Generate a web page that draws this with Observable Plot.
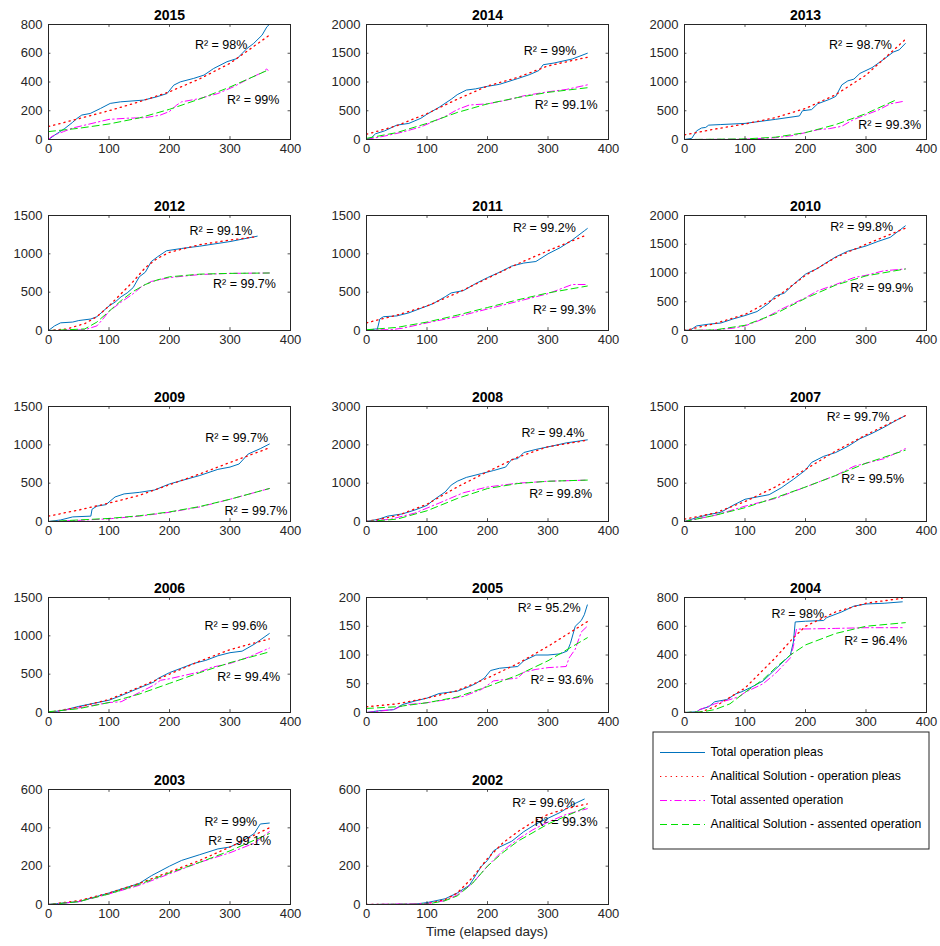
<!DOCTYPE html>
<html><head><meta charset="utf-8">
<script src="https://cdn.jsdelivr.net/npm/d3@7"></script>
<script src="https://cdn.jsdelivr.net/npm/@observablehq/plot@0.6"></script>
<style>
body{margin:0;background:#fff;}
#chart{position:relative;width:940px;height:946px;font-family:"Liberation Sans",Arial,Helvetica,sans-serif;}
#chart svg{position:absolute;overflow:visible;max-width:none;}
#xlabel{position:absolute;left:0;width:974px;top:924px;text-align:center;font-size:13.5px;color:#262626;}
</style></head><body><div id="chart"><div id="xlabel">Time (elapsed days)</div></div>
<script>
// ---------- panel meta ----------
const years = [2015, 2014, 2013, 2012, 2011, 2010, 2009, 2008, 2007, 2006, 2005, 2004, 2003, 2002];
const yMax = [800, 2000, 2000, 1500, 1500, 2000, 1500, 3000, 1500, 1500, 200, 800, 600, 600];
const yTickStep = [200, 500, 500, 500, 500, 500, 500, 1000, 500, 500, 50, 200, 200, 200];
const xTicks = [0, 100, 200, 300, 400];
const r2Pleas = ["98%", "99%", "98.7%", "99.1%", "99.2%", "99.8%", "99.7%", "99.4%", "99.7%", "99.6%", "95.2%", "98%", "99%", "99.6%"];
const r2Assent = ["99%", "99.1%", "99.3%", "99.7%", "99.3%", "99.9%", "99.7%", "99.8%", "99.5%", "99.4%", "93.6%", "96.4%", "99.1%", "99.3%"];
const r2PleasAt = [[242,656],[260,1542],[239,1640],[233,1303],[242,1333],[241,1807],[259,1083],[256,2298],[235,1360],[258,1127],[250,181],[144,688],[258,433],[241,532]];
const r2AssentAt = [[295,278],[278,597],[287,249],[272,601],[275,272],[274,731],[291,132],[269,728],[259,548],[279,469],[271,56],[264,500],[264,329],[278,428]];
const legendLabels = ["Total operation pleas", "Analitical Solution - operation pleas", "Total assented operation", "Analitical Solution - assented operation"];

// ---------- series: [day, cumulative count] ----------
const pleas2015 = [[0,0],[10,30],[27,77],[40,120],[47,146],[55,170],[69,181],[86,216],[102,251],[119,262],[157,274],[179,297],[196,320],[207,378],[218,401],[240,425],[257,448],[273,494],[295,541],[312,564],[328,633],[339,668],[353,726],[361,784],[364,796]];
const fitPleas2015 = [[0,90],[50,145],[100,200],[150,262],[200,332],[250,422],[300,530],[365,725]];
const assent2015 = [[0,0],[5,20],[15,40],[25,55],[40,80],[60,100],[80,120],[100,140],[130,148],[160,152],[185,170],[200,195],[212,240],[220,262],[250,285],[280,320],[305,365],[330,420],[355,470],[360,490],[363,482]];
const fitAssent2015 = [[0,55],[50,78],[100,108],[150,150],[200,210],[250,282],[300,365],[365,487]];

const pleas2014 = [[0,0],[8,30],[15,100],[30,150],[50,250],[70,280],[90,370],[100,440],[120,560],[140,700],[150,780],[165,860],[180,880],[200,925],[220,960],[250,1060],[270,1130],[285,1200],[292,1300],[310,1330],[340,1400],[365,1500]];
const fitPleas2014 = [[0,90],[50,240],[100,450],[150,700],[200,930],[250,1080],[300,1280],[365,1430]];
const assent2014 = [[0,0],[30,60],[60,130],[90,220],[110,310],[130,400],[150,520],[170,600],[200,620],[230,680],[260,760],[300,830],[330,870],[365,950]];
const fitAssent2014 = [[0,20],[50,120],[100,280],[150,470],[200,620],[250,730],[300,820],[365,900]];

const pleas2013 = [[0,0],[12,20],[20,150],[28,200],[35,210],[40,250],[60,260],[100,280],[150,350],[190,410],[195,500],[210,520],[220,620],[240,700],[250,750],[260,950],[270,1020],[280,1050],[290,1150],[310,1250],[330,1400],[345,1520],[355,1560],[365,1670]];
const fitPleas2013 = [[0,80],[50,180],[100,270],[150,380],[200,540],[250,780],[300,1120],[365,1740]];
const assent2013 = [[0,0],[100,5],[150,30],[180,70],[200,120],[220,170],[240,190],[260,230],[270,290],[280,350],[300,430],[320,510],[340,620],[360,660]];
const fitAssent2013 = [[0,0],[100,10],[150,40],[200,120],[250,260],[300,450],[350,690]];

const pleas2012 = [[0,0],[10,60],[20,100],[40,110],[50,130],[70,150],[80,180],[90,250],[100,320],[110,370],[120,440],[130,490],[140,560],[150,700],[160,760],[170,900],[180,960],[195,1040],[220,1070],[250,1100],[300,1160],[345,1230]];
const fitPleas2012 = [[0,0],[30,20],[60,90],[80,180],[100,320],[120,480],[140,640],[160,820],[180,940],[200,1020],[250,1120],[300,1180],[345,1225]];
const assent2012 = [[0,0],[30,5],[60,10],[80,60],[90,150],[100,250],[120,370],[140,480],[155,580],[170,640],[200,690],[250,730],[300,745],[365,750]];
const fitAssent2012 = [[0,0],[60,20],[80,110],[100,250],[120,390],[140,510],[160,600],[180,660],[200,700],[250,735],[300,745],[365,750]];

const pleas2011 = [[0,0],[15,20],[18,20],[22,150],[28,180],[50,190],[70,230],[90,290],[110,350],[130,440],[140,490],[160,520],[180,610],[200,690],[220,760],[240,840],[260,880],[280,900],[300,1000],[320,1080],[340,1180],[360,1300],[365,1330]];
const fitPleas2011 = [[0,100],[50,200],[100,320],[150,490],[200,680],[250,870],[300,1040],[365,1250]];
const assent2011 = [[0,0],[20,10],[40,10],[60,30],[100,100],[150,180],[200,280],[250,380],[300,480],[340,600],[365,600]];
const fitAssent2011 = [[0,10],[50,40],[100,110],[150,200],[200,300],[250,400],[300,490],[365,580]];

const pleas2010 = [[0,0],[10,10],[20,80],[40,110],[60,130],[80,200],[100,260],[120,330],[140,480],[150,600],[165,650],[180,800],[200,980],[220,1080],[230,1150],[250,1280],[270,1380],[300,1470],[320,1550],[340,1620],[365,1820]];
const fitPleas2010 = [[0,0],[50,120],[100,280],[150,560],[200,960],[250,1270],[300,1500],[365,1780]];
const assent2010 = [[0,0],[50,10],[80,40],[100,80],[130,200],[160,370],[200,570],[220,690],[250,800],[280,920],[300,960],[330,1040],[365,1070]];
const fitAssent2010 = [[0,0],[50,10],[100,90],[150,290],[200,560],[250,790],[300,950],[365,1070]];

const pleas2009 = [[0,0],[20,20],[40,60],[70,70],[72,160],[80,200],[95,220],[110,320],[125,360],[150,380],[175,410],[200,490],[250,600],[280,680],[300,710],[315,750],[330,880],[350,950],[365,1010]];
const fitPleas2009 = [[0,70],[50,150],[100,240],[150,340],[200,480],[250,620],[300,770],[365,960]];
const assent2009 = [[0,0],[50,15],[100,35],[150,70],[200,120],[250,190],[300,290],[365,430]];
const fitAssent2009 = [[0,0],[50,20],[100,40],[150,75],[200,125],[250,195],[300,290],[365,430]];

const pleas2008 = [[0,0],[20,60],[35,140],[60,200],[80,300],[100,420],[110,550],[130,770],[140,950],[150,1050],[165,1150],[190,1250],[210,1330],[230,1420],[240,1620],[250,1640],[260,1800],[280,1880],[310,1980],[330,2050],[365,2130]];
const fitPleas2008 = [[0,0],[50,150],[100,450],[150,900],[200,1300],[250,1680],[300,1950],[365,2120]];
const assent2008 = [[0,0],[40,60],[80,220],[120,480],[160,750],[200,900],[250,1000],[300,1050],[365,1080]];
const fitAssent2008 = [[0,0],[50,60],[100,280],[150,600],[200,860],[250,990],[300,1050],[365,1080]];

const pleas2007 = [[0,0],[20,50],[40,90],[60,120],[80,210],[100,290],[120,320],[140,350],[160,440],[180,550],[200,670],[210,770],[230,850],[250,900],[270,980],[290,1080],[310,1150],[330,1230],[350,1320],[365,1380]];
const fitPleas2007 = [[0,30],[50,110],[100,260],[150,450],[200,680],[250,920],[300,1130],[365,1380]];
const assent2007 = [[0,0],[50,80],[100,200],[150,300],[200,450],[250,600],[280,720],[300,760],[330,820],[365,950]];
const fitAssent2007 = [[0,0],[50,80],[100,180],[150,310],[200,450],[250,600],[300,760],[365,930]];

const pleas2006 = [[0,0],[25,30],[50,80],[75,120],[100,160],[120,220],[150,320],[175,400],[180,440],[200,520],[220,580],[240,640],[260,680],[280,740],[300,780],[320,800],[340,890],[365,1030]];
const fitPleas2006 = [[0,0],[50,70],[100,170],[150,330],[200,500],[250,670],[300,820],[365,960]];
const assent2006 = [[0,0],[50,60],[100,130],[120,140],[150,260],[175,360],[185,420],[200,440],[250,530],[270,590],[300,640],[330,720],[365,840]];
const fitAssent2006 = [[0,10],[50,50],[100,130],[150,240],[200,380],[250,520],[300,650],[365,790]];

const pleas2005 = [[0,0],[20,3],[45,5],[60,14],[80,20],[100,25],[120,33],[150,37],[170,45],[180,50],[195,60],[205,73],[220,77],[250,80],[260,90],[280,100],[300,100],[320,102],[332,107],[337,120],[345,150],[355,160],[360,170],[365,187]];
const fitPleas2005 = [[0,10],[50,15],[100,25],[150,38],[200,60],[250,85],[300,115],[365,158]];
const assent2005 = [[0,0],[45,5],[55,10],[70,14],[100,17],[130,22],[160,28],[190,40],[210,55],[250,60],[260,70],[280,75],[300,78],[330,80],[335,95],[345,110],[355,140],[365,150]];
const fitAssent2005 = [[0,7],[50,10],[100,17],[150,27],[200,45],[250,65],[300,90],[365,130]];

const pleas2004 = [[0,0],[20,5],[25,20],[40,40],[50,75],[70,90],[85,130],[95,145],[110,175],[130,220],[150,300],[165,360],[175,400],[180,490],[183,630],[200,635],[230,640],[235,660],[260,700],[280,740],[300,755],[330,760],[360,770]];
const fitPleas2004 = [[0,0],[25,0],[50,40],[100,170],[150,380],[180,520],[200,600],[250,700],[300,760],[360,795]];
const assent2004 = [[0,0],[20,0],[25,20],[50,60],[75,90],[90,110],[100,140],[130,200],[150,270],[175,380],[180,460],[185,580],[250,585],[300,590],[360,590]];
const fitAssent2004 = [[0,0],[30,5],[50,20],[75,60],[100,140],[130,230],[150,310],[175,400],[200,470],[250,550],[300,600],[365,625]];

const pleas2003 = [[0,0],[50,15],[100,60],[150,110],[170,150],[200,200],[220,230],[250,260],[280,290],[300,300],[320,330],[340,370],[350,420],[365,425]];
const fitPleas2003 = [[0,0],[50,20],[100,60],[150,110],[200,170],[250,230],[300,300],[365,400]];
const assent2003 = [[0,0],[50,15],[100,55],[150,100],[200,160],[250,220],[300,270],[340,320],[365,380]];
const fitAssent2003 = [[0,0],[50,15],[100,55],[150,105],[200,165],[250,220],[300,280],[365,370]];

const pleas2002 = [[0,0],[80,2],[100,10],[130,30],[150,60],[170,100],[190,200],[200,230],[210,280],[220,300],[240,330],[260,380],[280,420],[300,450],[320,480],[340,520],[360,550]];
const fitPleas2002 = [[0,0],[80,0],[100,5],[130,25],[150,60],[175,140],[200,240],[225,320],[250,380],[275,430],[300,470],[330,500],[365,525]];
const assent2002 = [[0,0],[100,5],[130,20],[150,50],[175,110],[200,200],[225,280],[250,340],[275,390],[300,430],[330,470],[365,500]];
const fitAssent2002 = [[0,0],[100,2],[130,20],[150,45],[175,110],[200,200],[225,270],[250,330],[300,420],[365,510]];

const pleasSeries = [pleas2015, pleas2014, pleas2013, pleas2012, pleas2011, pleas2010, pleas2009, pleas2008, pleas2007, pleas2006, pleas2005, pleas2004, pleas2003, pleas2002];
const fitPleasSeries = [fitPleas2015, fitPleas2014, fitPleas2013, fitPleas2012, fitPleas2011, fitPleas2010, fitPleas2009, fitPleas2008, fitPleas2007, fitPleas2006, fitPleas2005, fitPleas2004, fitPleas2003, fitPleas2002];
const assentSeries = [assent2015, assent2014, assent2013, assent2012, assent2011, assent2010, assent2009, assent2008, assent2007, assent2006, assent2005, assent2004, assent2003, assent2002];
const fitAssentSeries = [fitAssent2015, fitAssent2014, fitAssent2013, fitAssent2012, fitAssent2011, fitAssent2010, fitAssent2009, fitAssent2008, fitAssent2007, fitAssent2006, fitAssent2005, fitAssent2004, fitAssent2003, fitAssent2002];

// ---------- styles ----------
const FONT = '"Liberation Sans", Arial, Helvetica, sans-serif';
const INK = "#262626";
const seriesStyle = [
  {stroke: "#0072BD", strokeWidth: 1},
  {stroke: "#ff0000", strokeWidth: 1.3, strokeDasharray: "1.3,4"},
  {stroke: "#ff00ff", strokeWidth: 1, strokeDasharray: "7,3,1.5,3"},
  {stroke: "#00e000", strokeWidth: 1, strokeDasharray: "7,4"}
];
const colLeft = [48, 366, 684];
const rowTop = [24, 215, 406, 597, 789];
const FW = 242, FH = 115, ML = 48, MT = 24, MR = 20, MB = 22;

const chart = document.getElementById("chart");

years.forEach((yr, i) => {
  const col = i % 3, row = Math.floor(i / 3);
  const ym = yMax[i];
  const yTicks = d3.range(0, ym + 1e-9, yTickStep[i]);
  const lineOf = (arr, st) => Plot.line(arr, {x: d => d[0], y: d => d[1], ...st, clip: true});
  const svg = Plot.plot({
    width: FW + ML + MR, height: FH + MT + MB,
    marginLeft: ML, marginRight: MR, marginTop: MT, marginBottom: MB,
    style: {fontFamily: FONT, fontSize: "13px", color: INK, background: "transparent", overflow: "visible"},
    x: {domain: [0, 400]},
    y: {domain: [0, ym]},
    marks: [
      lineOf(pleasSeries[i], seriesStyle[0]),
      lineOf(fitPleasSeries[i], seriesStyle[1]),
      lineOf(assentSeries[i], seriesStyle[2]),
      lineOf(fitAssentSeries[i], seriesStyle[3]),
      Plot.ruleX(xTicks, {x: d => d, y1: 0, y2: ym * 0.025, stroke: INK, strokeWidth: 0.8}),
      Plot.ruleX(xTicks, {x: d => d, y1: ym, y2: ym * 0.975, stroke: INK, strokeWidth: 0.8}),
      Plot.ruleY(yTicks, {y: d => d, x1: 0, x2: 4, stroke: INK, strokeWidth: 0.8}),
      Plot.ruleY(yTicks, {y: d => d, x1: 400, x2: 396, stroke: INK, strokeWidth: 0.8}),
      Plot.frame({stroke: INK, strokeWidth: 1}),
      Plot.axisX(xTicks, {tickSize: 0, tickPadding: 4, tickFormat: d => String(d), label: null, fontSize: 13}),
      Plot.axisY(yTicks, {tickSize: 0, tickPadding: 6, tickFormat: d => String(d), label: null, fontSize: 13}),
      Plot.text([{x: r2PleasAt[i][0], y: r2PleasAt[i][1], t: "R\u00B2 = " + r2Pleas[i]},
                 {x: r2AssentAt[i][0], y: r2AssentAt[i][1], t: "R\u00B2 = " + r2Assent[i]}],
        {x: "x", y: "y", text: "t", textAnchor: "start", lineAnchor: "middle", fontSize: 12.5, fill: "black"}),
      Plot.text([String(yr)], {text: d => d, frameAnchor: "top", lineAnchor: "bottom", dy: -5, fontWeight: "bold", fontSize: 14, fill: "black"})
    ]
  });
  svg.style.left = (colLeft[col] - ML) + "px";
  svg.style.top = (rowTop[row] - MT) + "px";
  chart.appendChild(svg);
});

// ---------- legend ----------
const LW = 277, LH = 118;
const legendMarks = [Plot.frame({stroke: INK, strokeWidth: 1, inset: 0.5})];
legendLabels.forEach((lab, k) => {
  legendMarks.push(Plot.ruleY([lab], {y: d => d, x1: 8, x2: 53, ...seriesStyle[k], strokeWidth: 1.2}));
  legendMarks.push(Plot.text([lab], {y: d => d, x: 58, text: d => d, textAnchor: "start", fontSize: 12.2, fill: "black"}));
});
const legend = Plot.plot({
  width: LW, height: LH, margin: 0,
  style: {fontFamily: FONT, background: "white", overflow: "visible"},
  x: {domain: [0, LW], range: [0, LW], axis: null},
  y: {type: "point", domain: legendLabels, range: [20.5, 92.5], padding: 0, axis: null},
  marks: legendMarks
});
legend.style.left = "652px";
legend.style.top = "731px";
chart.appendChild(legend);
</script>
</body></html>
